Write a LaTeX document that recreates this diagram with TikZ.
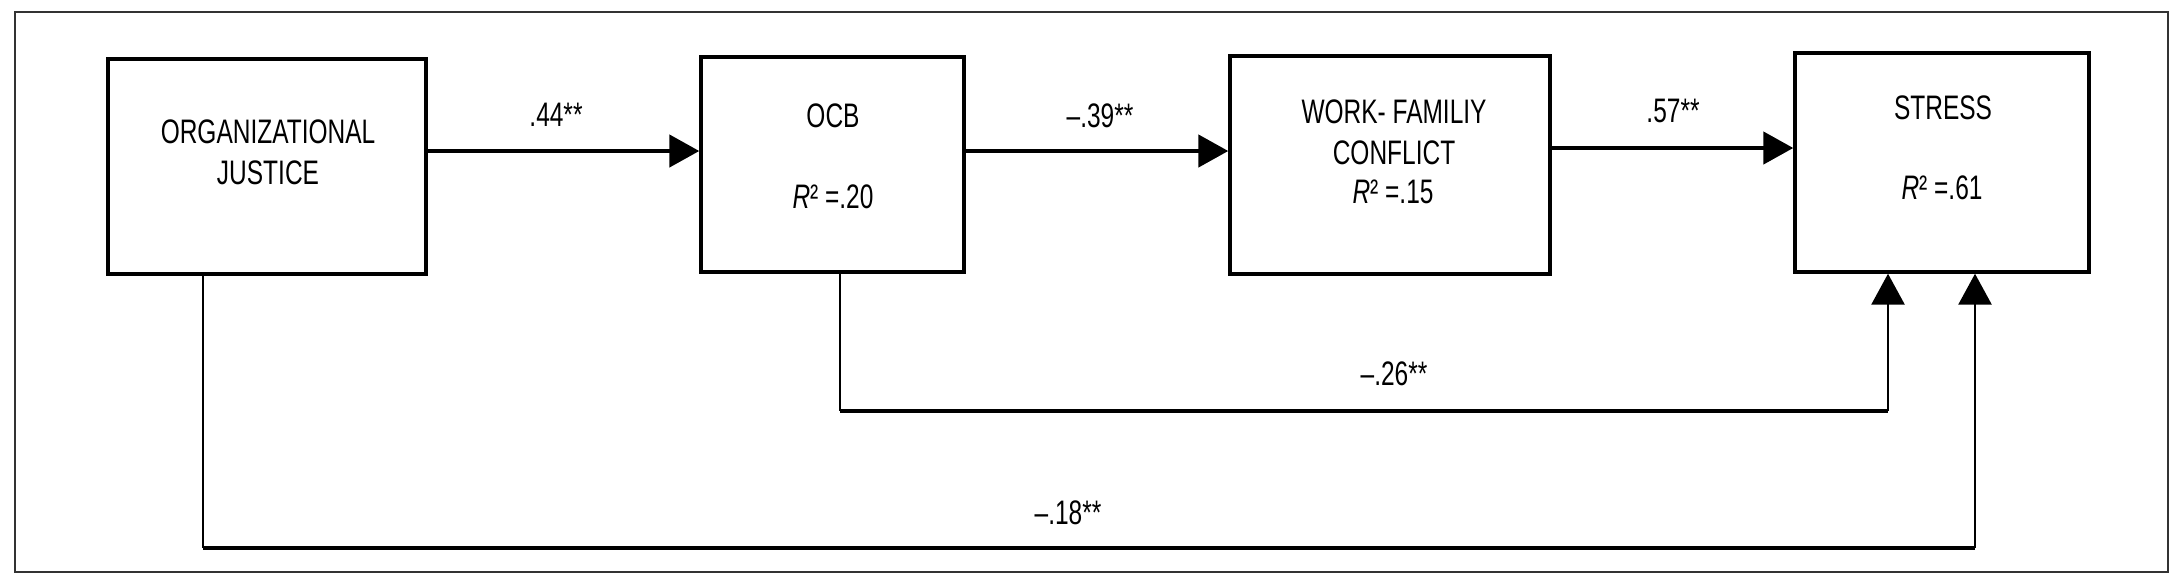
\documentclass[tikz,border=0pt]{standalone}
\usepackage{fontspec}
\setmainfont{Liberation Sans}[FakeStretch=0.72]
\usetikzlibrary{arrows.meta}
\begin{document}
\begin{tikzpicture}[x=0.5pt,y=-0.5pt,
  box/.style={draw, line width=1.7pt, inner sep=0pt},
  lbl/.style={anchor=base, inner sep=0pt, font=\fontsize{17}{20}\selectfont},
  arr/.style={line width=2.3pt, -{Triangle[length=15pt,width=16pt]}},
  leg/.style={line width=1.4pt},
  legarr/.style={line width=1.4pt, -{Triangle[length=15.5pt,width=16.5pt]}},
  basel/.style={line width=2.1pt}]
\useasboundingbox (0,0) rectangle (2183,575);
\draw[line width=1pt, draw=black!80] (15,12) rectangle (2168,572);
% boxes
\node[box, minimum width=159pt, minimum height=107.5pt] (oj) at (267,166.5) {};
\node[box, minimum width=131.5pt, minimum height=107.5pt] (ocb) at (832.5,164.5) {};
\node[box, minimum width=160pt, minimum height=109pt] (wfc) at (1390,165) {};
\node[box, minimum width=147pt, minimum height=109.5pt] (stress) at (1942,162.5) {};
% box texts
\node[lbl] (t1) at (268,143.3) {ORGANIZATIONAL};
\node[lbl] (t2) at (268,184) {JUSTICE};
\node[lbl] (t3) at (833,127.7) {OCB};
\node[lbl] (t4) at (833,208.3) {\textit{R}² =.20};
\node[lbl] (t5) at (1394,123.3) {WORK- FAMILIY};
\node[lbl] (t6) at (1394,164.3) {CONFLICT};
\node[lbl] (t7) at (1393,203.3) {\textit{R}² =.15};
\node[lbl] (t8) at (1943,119) {STRESS};
\node[lbl] (t9) at (1942,199.3) {\textit{R}² =.61};
% path labels
\node[lbl] (l1) at (556,126.7) {.44**};
\node[lbl] (l2) at (1100,127.7) {\textendash.39**};
\node[lbl] (l3) at (1673,122.3) {.57**};
\node[lbl] (l4) at (1394,385) {\textendash.26**};
\node[lbl] (l5) at (1068,524) {\textendash.18**};
% horizontal arrows
\coordinate (h1) at (0,151);
\coordinate (h3) at (0,148);
\draw[arr] (oj.east |- h1) -- (ocb.west |- h1);
\draw[arr] (ocb.east |- h1) -- (wfc.west |- h1);
\draw[arr] (wfc.east |- h3) -- (stress.west |- h3);
% OCB -> STRESS
\coordinate (c1) at (840,411);
\coordinate (c2) at (1888,411);
\draw[leg] (ocb.south -| c1) -- (c1);
\draw[basel] (c1) -- (c2);
\draw[legarr] (c2) -- (stress.south -| c2);
% OJ -> STRESS
\coordinate (d1) at (203,548);
\coordinate (d2) at (1975,548);
\draw[leg] (oj.south -| d1) -- (d1);
\draw[basel] (d1) -- (d2);
\draw[legarr] (d2) -- (stress.south -| d2);
\end{tikzpicture}
\end{document}
